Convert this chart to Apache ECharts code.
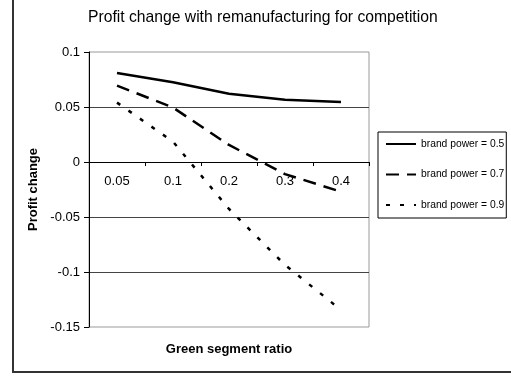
<!DOCTYPE html>
<html>
<head>
<meta charset="utf-8">
<script src="https://cdn.jsdelivr.net/npm/echarts@6/dist/echarts.min.js"></script>
<style>
  html, body { margin: 0; padding: 0; background: #fff; }
  #chart { width: 511px; height: 379px; }
</style>
</head>
<body>
<div id="chart"></div>
<script>
// Green segment ratio (x categories)
const categories = ['0.05', '0.1', '0.2', '0.3', '0.4'];
// Profit change for each brand power level
const power05 = [0.081, 0.0725, 0.062, 0.0565, 0.0545];
const power07 = [0.0695, 0.0495, 0.0155, -0.011, -0.027];
const power09 = [0.054, 0.0185, -0.0427, -0.0936, -0.1345];
const seriesNames = ['brand power = 0.5', 'brand power = 0.7', 'brand power = 0.9'];
// Y axis range
const yMin = -0.15, yMax = 0.1, yStep = 0.05;

const FONT = '"Liberation Sans", Arial, sans-serif';
const GRID = { left: 89, right: 142, top: 52, bottom: 52 };
const PLOT_H = 379 - GRID.top - GRID.bottom;
// distance from the plot bottom up to the zero line, so the category axis sits on y = 0
const zeroLift = PLOT_H * (0 - yMin) / (yMax - yMin);

const chart = echarts.init(document.getElementById('chart'), null, { renderer: 'canvas' });

const lineSeries = (name, data, type) => ({
  name, type: 'line', data, symbol: 'none', smooth: false,
  color: '#000',
  lineStyle: { color: '#000', width: 2.5, type, cap: 'butt' },
  z: 3
});

chart.setOption({
  animation: false,
  backgroundColor: '#fff',
  textStyle: { fontFamily: FONT },
  title: {
    text: 'Profit change with remanufacturing for competition',
    left: 88, top: 10, padding: 0,
    textStyle: { fontFamily: FONT, fontSize: 15.7, fontWeight: 'normal', color: '#000' }
  },
  grid: Object.assign({
    outerBoundsMode: 'none', containLabel: false,
    show: true, borderColor: '#999', borderWidth: 1, backgroundColor: 'transparent'
  }, GRID),
  legend: {
    orient: 'vertical', left: 378, top: 132,
    itemWidth: 30, itemHeight: 10, itemGap: 20.5,
    padding: [7, 2, 8, 7],
    borderColor: '#000', borderWidth: 1, backgroundColor: '#fff',
    itemStyle: { opacity: 0 },
    textStyle: { fontFamily: FONT, fontSize: 10.3, color: '#000' },
    data: seriesNames
  },
  xAxis: {
    type: 'category', data: categories, boundaryGap: true,
    position: 'bottom', offset: -zeroLift,
    name: 'Green segment ratio', nameLocation: 'middle', nameGap: 181,
    nameTextStyle: { fontFamily: FONT, fontSize: 13, fontWeight: 'bold', color: '#000' },
    axisLine: { onZero: false, lineStyle: { color: '#000', width: 1 } },
    axisTick: { show: true, length: 4, lineStyle: { color: '#000' } },
    axisLabel: { fontFamily: FONT, fontSize: 13, color: '#000', margin: 13 },
    splitLine: { show: false }
  },
  yAxis: {
    type: 'value', min: yMin, max: yMax, interval: yStep,
    name: 'Profit change', nameLocation: 'middle', nameGap: 46,
    nameTextStyle: { fontFamily: FONT, fontSize: 13, fontWeight: 'bold', color: '#000' },
    axisLine: { show: true, lineStyle: { color: '#000', width: 1 } },
    axisTick: { show: true, length: 5, lineStyle: { color: '#000' } },
    axisLabel: { fontFamily: FONT, fontSize: 13, color: '#000', margin: 9 },
    splitLine: { show: true, showMinLine: false, showMaxLine: false, lineStyle: { color: '#444', width: 1 } }
  },
  series: [
    lineSeries(seriesNames[0], power05, 'solid'),
    lineSeries(seriesNames[1], power07, [13, 8]),
    lineSeries(seriesNames[2], power09, [4, 10])
  ],
  graphic: [
    { type: 'line', shape: { x1: 13, y1: 0, x2: 13, y2: 372 }, style: { stroke: '#333', lineWidth: 2 }, silent: true },
    { type: 'line', shape: { x1: 12, y1: 372, x2: 511, y2: 372 }, style: { stroke: '#333', lineWidth: 2 }, silent: true }
  ]
});
</script>
</body>
</html>
